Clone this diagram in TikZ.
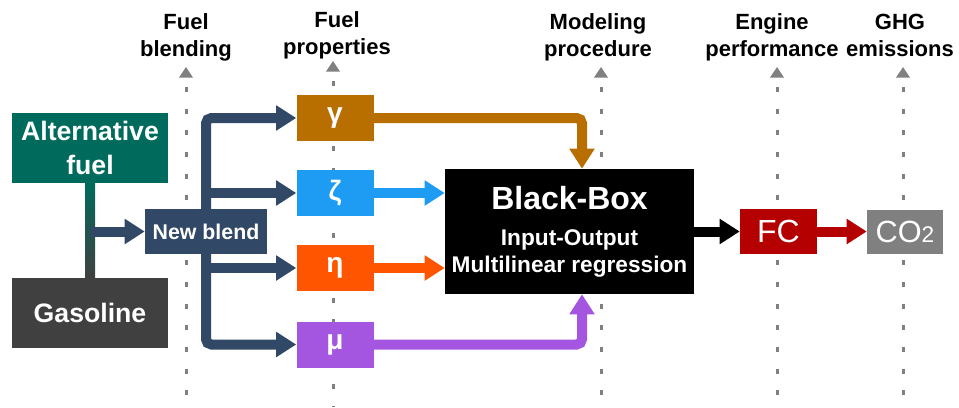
\documentclass[tikz,border=0pt]{standalone}
\usepackage{fontspec}
\setmainfont{Liberation Sans}
\usetikzlibrary{positioning, arrows.meta, calc}
\definecolor{mygreen}{RGB}{0,107,92}
\definecolor{mydark}{RGB}{64,64,64}
\definecolor{myslate}{RGB}{49,73,103}
\definecolor{mygamma}{RGB}{184,111,0}
\definecolor{myzeta}{RGB}{30,156,244}
\definecolor{myeta}{RGB}{255,85,0}
\definecolor{mymu}{RGB}{164,86,224}
\definecolor{myred}{RGB}{180,0,0}
\definecolor{mygray}{RGB}{128,128,128}
\pgfdeclarelayer{background}
\pgfsetlayers{background,main}
\tikzset{
  box/.style={draw=none, inner sep=0, text=white, align=center,
    font=\bfseries\fontsize{20}{25.5}\selectfont},
  greek/.style={box, minimum width=57.75pt, minimum height=34.5pt,
    font=\bfseries\fontsize{21}{22}\selectfont},
  title/.style={anchor=south, inner sep=0, text depth=0pt, align=center,
    font=\bfseries\fontsize{16.5}{20.25}\selectfont},
  guide/.style={<-, >={Triangle[width=10pt,length=8pt]}, color=mygray,
    line width=2.25pt, dash pattern=on 3.75pt off 12.5pt, dash phase=8.75pt,
    shorten <=7.5pt},
  fat/.style={->, line width=7.5pt, rounded corners=4pt}
}

\begin{document}
\begin{tikzpicture}[x=0.75pt, y=-0.75pt, >={Triangle[width=18pt,length=15pt]}]
\useasboundingbox (0,0) rectangle (959,407);

\node [title] (tblend) at (186,57) {Fuel\\blending};
\node [title] (tprop) at (337,55) {Fuel\\properties};
\node [title] (tmodel) at (598,57) {Modeling\\procedure};
\node [title] (tengine) at (772,57) {Engine\\performance};
\node [title] (tghg) at (900,57) {GHG\\emissions};

\coordinate (g1) at (186,407);
\coordinate (g2) at (333,407);
\coordinate (g3) at (601,407);
\coordinate (g4) at (777,407);
\coordinate (g5) at (903,407);

\node [box, fill=mygreen, minimum width=117pt, minimum height=52.5pt] (alt) at (90,148) {Alternative\\fuel};
\node [box, fill=mydark, minimum width=117pt, minimum height=52.5pt] (gas) at (90,313) {Gasoline};
\node [box, fill=myslate, minimum width=91.5pt, minimum height=33.75pt,
  font=\bfseries\fontsize{16}{18}\selectfont] (nb) at (206,231.5) {New blend};

\node [greek, fill=mygamma] (gam) at (335,118) {γ};
\node [greek, fill=myzeta] (zet) at (335,193) {ζ};
\node [greek, fill=myeta] (eta) at (335,268) {η};
\node [greek, fill=mymu] (mu) at (335,344.5) {μ};

\node [box, fill=black, minimum width=186.75pt, minimum height=93.75pt,
  font=\bfseries\fontsize{17}{20}\selectfont] (bb) at (569.5,231.5)
  {{\fontsize{24}{28}\selectfont Black-Box}\\[7pt]Input-Output\\Multilinear regression};

\node [box, fill=myred, minimum width=57.75pt, minimum height=33.75pt,
  font=\fontsize{24}{28}\selectfont] (fc) at (778.5,231.5) {FC};
\node [box, fill=mygray, minimum width=57pt, minimum height=33pt,
  font=\fontsize{23}{28}\selectfont] (co) at (905,232) {CO{\fontsize{17}{20}\selectfont 2}};

\begin{pgfonlayer}{background}
\draw [guide] (tblend.south -| g1) -- (g1);
\draw [guide, shorten <=4.5pt] (tprop.south -| g2) -- (g2);
\draw [guide] (tmodel.south -| g3) -- (g3);
\draw [guide] (tengine.south -| g4) -- (g4);
\draw [guide] (tghg.south -| g5) -- (g5);

\shade [top color=mygreen, middle color=myslate!80!mygreen, bottom color=mydark]
  ($(alt.south)+(-5,0)$) rectangle ($(gas.north)+(5,0)$);
\draw [fat, myslate] (alt.south |- nb.west) -- (nb.west);

\draw [fat, myslate] (nb.center) |- (gam.west);
\draw [fat, myslate] (nb.center |- zet.west) -- (zet.west);
\draw [fat, myslate] (nb.center |- eta.west) -- (eta.west);
\draw [fat, myslate] (nb.center) |- (mu.west);

\draw [fat, mygamma] (gam.east) -| ($(bb.north)+(12.5,0)$);
\draw [fat, myzeta] (zet.east) -- (zet.east -| bb.west);
\draw [fat, myeta] (eta.east) -- (eta.east -| bb.west);
\draw [fat, mymu] (mu.east) -| ($(bb.south)+(12.5,0)$);

\draw [fat, black] (bb.east) -- (fc.west);
\draw [fat, myred] (fc.east) -- (fc.east -| co.west);
\end{pgfonlayer}

\end{tikzpicture}
\end{document}
